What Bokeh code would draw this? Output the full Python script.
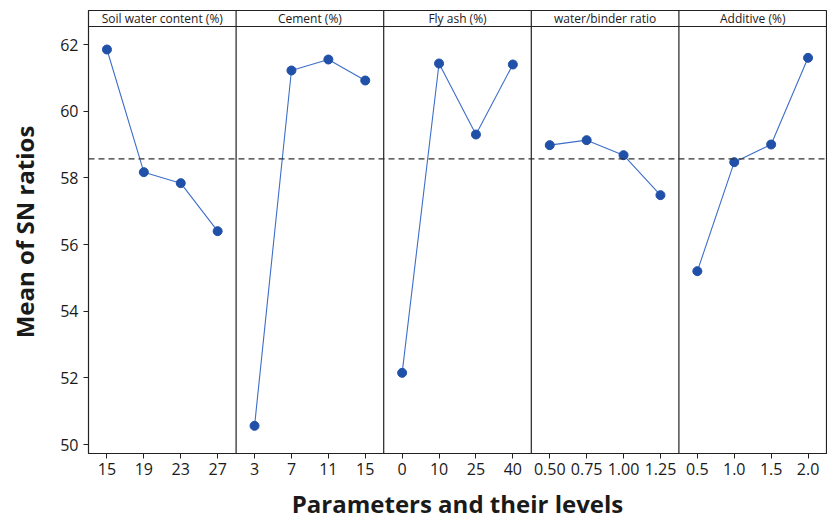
from bokeh.plotting import figure
from bokeh.models import Range1d, Span, FixedTicker, ColumnDataSource
from bokeh.core.properties import value
from bokeh.embed import file_html
from bokeh.resources import INLINE

panels = ["Soil water content (%)", "Cement (%)", "Fly ash (%)", "water/binder ratio", "Additive (%)"]
levels = [["15", "19", "23", "27"], ["3", "7", "11", "15"], ["0", "10", "25", "40"],
          ["0.50", "0.75", "1.00", "1.25"], ["0.5", "1.0", "1.5", "2.0"]]
sn_soil = [61.85, 58.17, 57.84, 56.40]
sn_cement = [50.56, 61.22, 61.55, 60.92]
sn_flyash = [52.15, 61.43, 59.30, 61.40]
sn_wb = [58.98, 59.13, 58.68, 57.48]
sn_additive = [55.20, 58.47, 59.00, 61.60]
series = [sn_soil, sn_cement, sn_flyash, sn_wb, sn_additive]
overall_mean = 58.57
y_ticks = [50, 52, 54, 56, 58, 60, 62]

FONT = "Open Sans"
Y_TOP_DATA = 62.54
Y_TOP = 63.02

p = figure(width=827, height=523, output_backend="svg", toolbar_location=None,
           x_range=Range1d(0.5, 20.5), y_range=Range1d(49.73, Y_TOP),
           min_border_left=88, min_border_right=1, min_border_top=10, min_border_bottom=70)
p.xgrid.visible = False
p.ygrid.visible = False
p.outline_line_color = "#222222"
p.outline_line_width = 1.2
p.background_fill_color = "white"
p.border_fill_color = "white"

xt = []
overrides = {}
for i, lv in enumerate(levels):
    for j, lab in enumerate(lv):
        pos = i * 4 + j + 1
        xt.append(pos)
        overrides[pos] = lab
p.xaxis.ticker = FixedTicker(ticks=xt)
p.xaxis.major_label_overrides = overrides
p.yaxis.ticker = FixedTicker(ticks=y_ticks)

for ax in (p.xaxis[0], p.yaxis[0]):
    ax.major_label_text_font = FONT
    ax.major_label_text_font_size = "16px"
    ax.major_label_text_color = "#1a1a1a"
    ax.axis_label_text_font = FONT
    ax.axis_label_text_font_size = "24px"
    ax.axis_label_text_font_style = "bold"
    ax.axis_label_text_color = "#1a1a1a"
    ax.axis_line_color = "#222222"
    ax.major_tick_line_color = "#222222"
    ax.major_tick_out = 5
    ax.major_tick_in = 0
    ax.minor_tick_line_color = None
p.xaxis.axis_label = "Parameters and their levels"
p.yaxis.axis_label = "Mean of SN ratios"
p.xaxis.major_label_standoff = 4
p.yaxis.major_label_standoff = 5
p.xaxis.axis_label_standoff = 9
p.yaxis.axis_label_standoff = 16

# overall mean
p.add_layout(Span(location=overall_mean, dimension="width", line_color="#333333",
                  line_dash="6 4", line_width=1.2))

# panel dividers
for i in range(1, 5):
    p.add_layout(Span(location=i * 4 + 0.5, dimension="height", line_color="#222222", line_width=1.2))
# header strip line
p.add_layout(Span(location=Y_TOP_DATA, dimension="width", line_color="#222222", line_width=1.2))

# header texts
hx = [i * 4 + 2.5 for i in range(5)]
hy = [(Y_TOP_DATA + Y_TOP) / 2] * 5
p.text(x=hx, y=hy, text=panels, text_font=value(FONT), text_font_size="12px",
       text_align="center", text_baseline="middle", text_color="#1a1a1a")

for i, s in enumerate(series):
    xs = [i * 4 + j + 1 for j in range(4)]
    src = ColumnDataSource(dict(x=xs, y=s))
    p.line("x", "y", source=src, line_color="#3d6ec9", line_width=1.1)
    p.scatter("x", "y", source=src, size=9, fill_color="#2150a8", line_color="#2150a8")

open("out.html", "w").write(file_html(p, INLINE))
